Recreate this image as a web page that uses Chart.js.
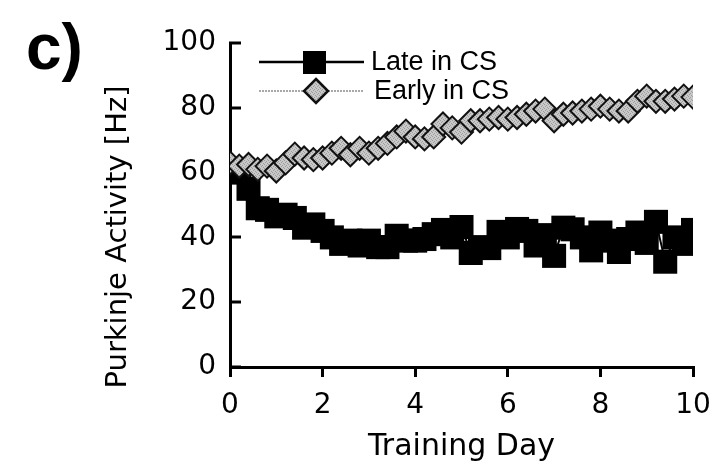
<!DOCTYPE html>
<html>
<head>
<meta charset="utf-8">
<title>Purkinje activity</title>
<script src="https://cdn.jsdelivr.net/npm/chart.js@4.4.0/dist/chart.umd.min.js"></script>
<style>
  html, body { margin: 0; padding: 0; background: #fff; }
  #wrap { width: 713px; height: 468px; }
</style>
</head>
<body>
<div id="wrap"><canvas id="purkinje" width="713" height="468"></canvas></div>
<script>
// sessions, 5 per training day
const days = [0, 0.2, 0.4, 0.6, 0.8, 1, 1.2, 1.4, 1.6, 1.8, 2, 2.2, 2.4, 2.6, 2.8, 3, 3.2, 3.4, 3.6, 3.8,
  4, 4.2, 4.4, 4.6, 4.8, 5, 5.2, 5.4, 5.6, 5.8, 6, 6.2, 6.4, 6.6, 6.8, 7, 7.2, 7.4, 7.6, 7.8,
  8, 8.2, 8.4, 8.6, 8.8, 9, 9.2, 9.4, 9.6, 9.8, 10];

// firing rate late in the CS (Hz)
const lateInCS = [60.5, 60, 55, 49, 48.5, 46.5, 47, 46, 43, 44, 42, 40, 38, 39, 37.5, 39, 37, 37, 40.5, 39,
  39, 39.5, 41, 42.3, 40, 43.2, 35.2, 37, 36.7, 41.7, 40, 42.6, 42, 37.5, 40.7, 34.3, 43, 42.5, 40, 36,
  41.5, 39, 35.5, 39.5, 41.5, 38.3, 44.8, 32.5, 40, 38, 42.3];

// firing rate early in the CS (Hz)
const earlyInCS = [63, 62, 62.5, 61, 62, 60.5, 63, 65.7, 64.5, 64, 64.5, 66, 67.5, 65.5, 67.5, 66, 67.5, 69, 71, 72.8,
  71, 70.4, 71, 75, 73.8, 72.5, 76, 76, 76.5, 77, 76.5, 77, 78, 79, 79.6, 76, 78, 78.4, 79, 79.6,
  80.5, 79.6, 79, 79, 82, 83.6, 82, 82, 82.7, 83.6, 83.3];

const xTicks = [0, 2, 4, 6, 8, 10];
const yTicks = [0, 20, 40, 60, 80, 100];

const seriesNames = ["Late in CS", "Early in CS"];

const axisFamily = "'DejaVu Sans', sans-serif";
const tickFont = { family: axisFamily, size: 28 };

// grainy grey fill for the diamonds
const makeStipple = () => {
  const c = document.createElement("canvas");
  c.width = 4;
  c.height = 4;
  const g = c.getContext("2d");
  g.fillStyle = "#c9c9c9";
  g.fillRect(0, 0, 4, 4);
  g.fillStyle = "#9c9c9c";
  [[0, 0], [2, 1], [1, 2], [3, 3]].forEach(([px, py]) => g.fillRect(px, py, 1, 1));
  return g.createPattern(c, "repeat");
};
const stipple = makeStipple();

const toPoints = (vals) => vals.map((v, i) => ({ x: days[i], y: v }));

// inward y ticks, panel letter, y title and the little legend
const figureDecor = {
  id: "figureDecor",
  beforeDatasetsDraw(chart) {
    const { ctx, chartArea, scales } = chart;
    ctx.save();
    ctx.strokeStyle = "#000";
    ctx.lineWidth = 3;
    scales.y.ticks.forEach((t) => {
      const py = Math.round(scales.y.getPixelForValue(t.value));
      ctx.beginPath();
      ctx.moveTo(chartArea.left - 1, py);
      ctx.lineTo(chartArea.left + 11, py);
      ctx.stroke();
    });
    ctx.restore();
  },
  afterDraw(chart) {
    const { ctx } = chart;
    ctx.save();

    ctx.fillStyle = "#000";
    ctx.font = "bold 64px 'Liberation Sans', Arial, sans-serif";
    ctx.textBaseline = "alphabetic";
    ctx.textAlign = "left";
    ctx.fillText("c)", 26, 69);

    ctx.save();
    ctx.translate(118, 237);
    ctx.rotate(-Math.PI / 2);
    ctx.font = "29px " + axisFamily;
    ctx.textAlign = "center";
    ctx.textBaseline = "middle";
    ctx.fillText("Purkinje Activity [Hz]", 0, 0);
    ctx.restore();

    // legend row 1: solid line with black square
    ctx.strokeStyle = "#000";
    ctx.lineWidth = 2.5;
    ctx.beginPath();
    ctx.moveTo(259, 62);
    ctx.lineTo(364, 62);
    ctx.stroke();
    ctx.fillStyle = "#000";
    ctx.fillRect(303, 51, 23, 23);

    // legend row 2: dotted grey line with diamond
    ctx.strokeStyle = "#a8a8a8";
    ctx.lineWidth = 2;
    ctx.setLineDash([2, 1]);
    ctx.beginPath();
    ctx.moveTo(259, 91);
    ctx.lineTo(364, 91);
    ctx.stroke();
    ctx.setLineDash([]);
    ctx.beginPath();
    ctx.moveTo(316, 79);
    ctx.lineTo(328, 91);
    ctx.lineTo(316, 103);
    ctx.lineTo(304, 91);
    ctx.closePath();
    ctx.fillStyle = stipple;
    ctx.fill();
    ctx.strokeStyle = "#111";
    ctx.lineWidth = 2.5;
    ctx.stroke();

    ctx.fillStyle = "#000";
    ctx.font = "27px 'Liberation Sans', Arial, sans-serif";
    ctx.textBaseline = "middle";
    ctx.fillText(seriesNames[0], 371, 63);
    ctx.fillText(seriesNames[1], 374, 92);

    ctx.restore();
  },
};

new Chart(document.getElementById("purkinje"), {
  type: "line",
  data: {
    datasets: [
      {
        label: seriesNames[0],
        data: toPoints(lateInCS),
        borderColor: "#000",
        borderWidth: 2,
        pointStyle: "rect",
        pointRadius: 17,
        pointBackgroundColor: "#000",
        pointBorderColor: "#000",
        pointBorderWidth: 0,
        order: 1,
        clip: 0,
      },
      {
        label: seriesNames[1],
        data: toPoints(earlyInCS),
        borderColor: "#a8a8a8",
        borderWidth: 1,
        borderDash: [2, 2],
        pointStyle: "rectRot",
        pointRadius: 11.5,
        pointBackgroundColor: stipple,
        pointBorderColor: "#111",
        pointBorderWidth: 2,
        order: 0,
        clip: 0,
      },
    ],
  },
  options: {
    responsive: false,
    animation: false,
    devicePixelRatio: 1,
    layout: { padding: { top: 43, right: 20, bottom: 0, left: 0 } },
    plugins: {
      legend: { display: false },
      tooltip: { enabled: false },
    },
    scales: {
      x: {
        type: "linear",
        min: 0,
        max: 10,
        afterBuildTicks: (scale) => {
          scale.ticks = xTicks.map((v) => ({ value: v }));
        },
        afterFit: (scale) => {
          scale.height = 101;
          scale.paddingLeft = 0;
          scale.paddingRight = 0;
        },
        grid: {
          display: true,
          drawOnChartArea: false,
          drawTicks: true,
          tickLength: 10,
          lineWidth: 3,
          color: "#000",
        },
        border: { display: true, width: 3, color: "#000" },
        ticks: { font: tickFont, color: "#000", padding: 12, maxRotation: 0 },
        title: {
          display: true,
          text: "Training Day",
          font: { family: axisFamily, size: 30 },
          color: "#000",
          padding: { top: 0, bottom: 3 },
        },
      },
      y: {
        type: "linear",
        min: 0,
        max: 100,
        afterBuildTicks: (scale) => {
          scale.ticks = yTicks.map((v) => ({ value: v }));
        },
        afterFit: (scale) => {
          scale.width = 230;
        },
        grid: { display: false, drawTicks: false },
        border: { display: true, width: 3, color: "#000" },
        ticks: { font: tickFont, color: "#000", padding: 14 },
      },
    },
  },
  plugins: [figureDecor],
});
</script>
</body>
</html>
